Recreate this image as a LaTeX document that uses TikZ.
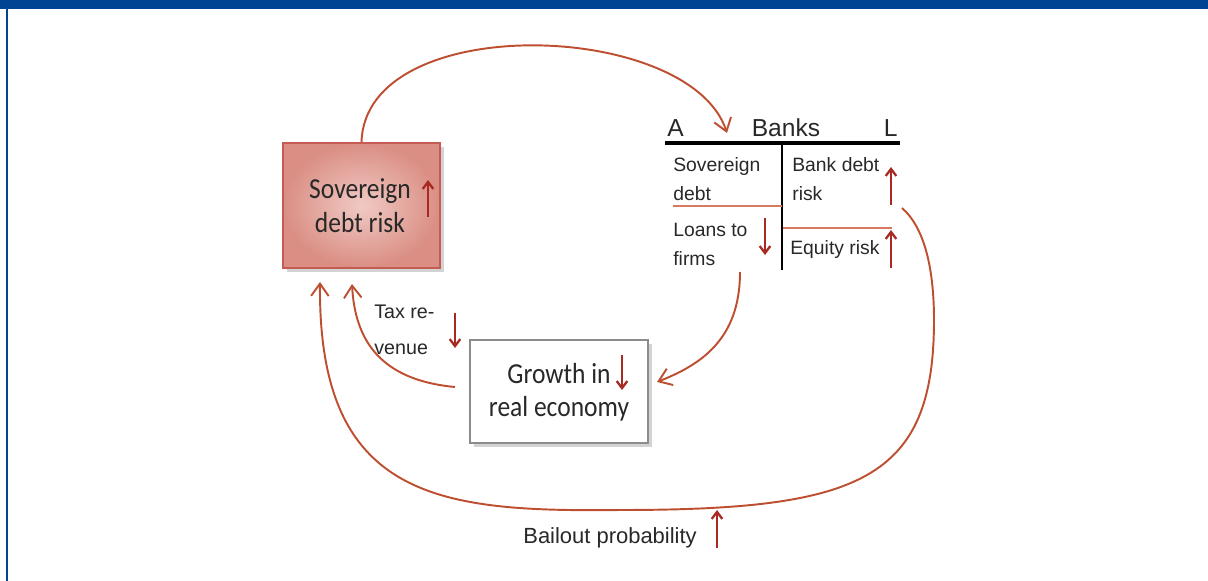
\documentclass[tikz,border=0pt]{standalone}
\usepackage{fontspec}
\setmainfont{Liberation Sans}
\newfontfamily\calfont[FakeStretch=0.88]{Carlito}
\usetikzlibrary{arrows.meta, shadows}
\definecolor{frameblue}{RGB}{0,68,148}
\definecolor{loopred}{RGB}{190,78,48}
\definecolor{markred}{RGB}{168,40,34}
\definecolor{linered}{RGB}{214,122,96}
\definecolor{sovedge}{RGB}{196,92,84}
\definecolor{sovin}{RGB}{240,202,196}
\definecolor{sovout}{RGB}{218,142,132}
\definecolor{ink}{RGB}{40,40,40}

\begin{document}
\begin{tikzpicture}[x=0.02cm, y=-0.02cm]
\tikzstyle{box} = [rectangle, inner sep=0pt]
\tikzstyle{boxtext} = [text=ink, font=\calfont\fontsize{16.5}{19}\selectfont, align=center]
\tikzstyle{txt} = [text=ink, inner sep=0pt, anchor=base west, align=left, font=\fontsize{11}{16}\selectfont]
\tikzstyle{loop} = [draw=loopred, line width=1.1pt, -{Straight Barb[length=7pt, width=10pt]}]
\tikzstyle{indic} = [draw=markred, line width=1.3pt, -{Straight Barb[length=4pt, width=6pt]}]

\useasboundingbox (0,0) rectangle (1208,581);
% frame
\fill[frameblue] (0,0) rectangle (1208,9);
\fill[frameblue] (6,9) rectangle (8,581);

% boxes
\node[box, draw=sovedge, line width=0.9pt, inner color=sovin, outer color=sovout,
  drop shadow={opacity=0.35, shadow xshift=2pt, shadow yshift=-2pt},
  minimum width=3.14cm, minimum height=2.5cm,
  label={[boxtext, xshift=-0.03cm]center:Sovereign\\debt risk}] (sov) at (361.5,205.5) {};
\node[box, draw=black!45, fill=white, line width=0.8pt,
  drop shadow={opacity=0.35, shadow xshift=2pt, shadow yshift=-2pt},
  minimum width=3.56cm, minimum height=2.06cm,
  label={[boxtext, yshift=-0.02cm]center:Growth in\\real economy}] (growth) at (559,391.5) {};

% banks balance sheet
\node[text=ink, inner sep=0pt, anchor=base west, font=\fontsize{14}{16}\selectfont] (hdrA) at (667,137) {A};
\node[text=ink, inner sep=0pt, anchor=base, font=\fontsize{14}{16}\selectfont] (banks) at (786,137) {Banks};
\node[text=ink, inner sep=0pt, anchor=base east, font=\fontsize{14}{16}\selectfont] (hdrL) at (898,137) {L};
\draw[line width=2.2pt] (665,143) -- (900,143);
\draw[line width=1.5pt] (782,143) -- (782,270);
\draw[linered, line width=0.8pt] (673,206) -- (782,206);
\draw[linered, line width=0.8pt] (783,228) -- (892,228);

\node[txt] (sovdebt) at (673,200) {Sovereign\\debt};
\node[txt] (loans) at (673,265) {Loans to\\firms};
\node[txt] (bankdebt) at (792,200) {Bank debt\\risk};
\node[txt] (equity) at (790,255) {Equity risk};

% labels on the loops
\node[txt, font=\fontsize{11.2}{20}\selectfont] (tax) at (374,354) {Tax re-\\venue};
\node[txt, font=\fontsize{12.5}{15}\selectfont] (bailout) at (523,543) {Bailout probability};

% up and down marks
\draw[indic] (428,217) -- (428,180);
\draw[indic] (622,355) -- (622,390);
\draw[indic] (765,218) -- (765,255);
\draw[indic] (891,205) -- (891,167);
\draw[indic] (891,268) -- (891,230);
\draw[indic] (455,313) -- (455,348);
\draw[indic] (717,548) -- (717,510);

% loop ends
\coordinate (bankin) at (727,133);
\coordinate (loanout) at (740,272);
\coordinate (growthin) at (657,382);
\coordinate (taxout) at (455,387);
\coordinate (taxin) at (352,284);
\coordinate (bdout) at (902,208);
\coordinate (bailin) at (320,282);

\draw[loop] (sov.north) .. controls (365,10) and (690,20) .. (bankin);
\draw[loop] (loanout) .. controls (740,340) and (700,365) .. (growthin);
\draw[loop] (taxout) .. controls (380,380) and (355,340) .. (taxin);
\draw[loop] (bdout) .. controls (925,228) and (934,270) .. (934,320)
  .. controls (934,480) and (860,510) .. (620,510)
  .. controls (440,512) and (318,500) .. (bailin);
\end{tikzpicture}
\end{document}
